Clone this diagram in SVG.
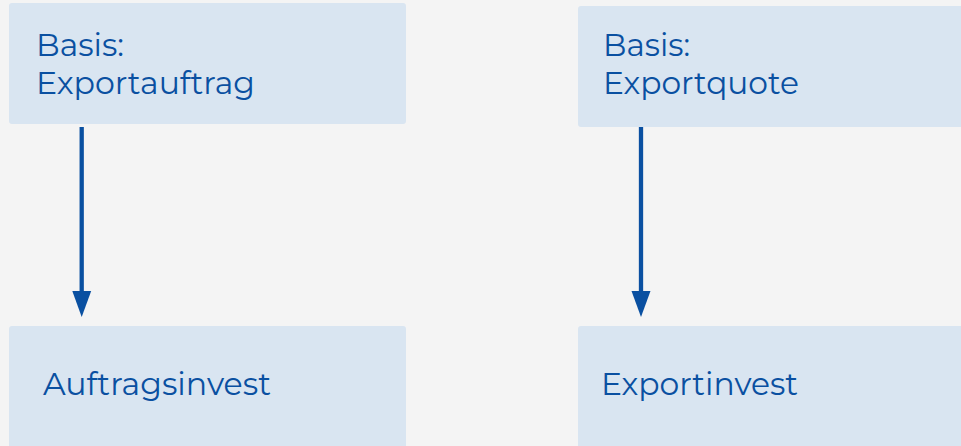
<svg xmlns="http://www.w3.org/2000/svg" width="961" height="446" viewBox="0 0 961 446">
<defs>
<style>
.box{fill:#d9e5f1;}
.t{font-family:"Montserrat","Open Sans","Liberation Sans",sans-serif;font-size:31px;fill:#0a50a1;}
.c{stroke:#0a50a1;stroke-width:4.3;fill:none;}
.ah{fill:#0a50a1;}
</style>
</defs>
<rect width="961" height="446" fill="#f4f4f4"/>
<g id="node-exportauftrag">
<rect class="box" x="9" y="3" width="397" height="121" rx="3"/>
<text class="t" x="36" y="56" textLength="88" lengthAdjust="spacingAndGlyphs">Basis:</text>
<text class="t" x="36" y="94" textLength="219" lengthAdjust="spacingAndGlyphs">Exportauftrag</text>
</g>
<g id="node-exportquote">
<rect class="box" x="578" y="6" width="390" height="121" rx="3"/>
<text class="t" x="603" y="56" textLength="87" lengthAdjust="spacingAndGlyphs">Basis:</text>
<text class="t" x="603" y="94" textLength="196" lengthAdjust="spacingAndGlyphs">Exportquote</text>
</g>
<g id="node-auftragsinvest">
<rect class="box" x="9" y="326" width="397" height="130" rx="3"/>
<text class="t" x="43" y="395" textLength="228" lengthAdjust="spacingAndGlyphs">Auftragsinvest</text>
</g>
<g id="node-exportinvest">
<rect class="box" x="578" y="326" width="390" height="130" rx="3"/>
<text class="t" x="601" y="395" textLength="197" lengthAdjust="spacingAndGlyphs">Exportinvest</text>
</g>
<g id="connectors">
<line class="c" x1="81.7" y1="127" x2="81.7" y2="292"/>
<polygon class="ah" points="72.3,291 91.2,291 81.7,317"/>
<line class="c" x1="641" y1="127" x2="641" y2="292"/>
<polygon class="ah" points="631.5,291 650.5,291 641,317"/>
</g>
</svg>
